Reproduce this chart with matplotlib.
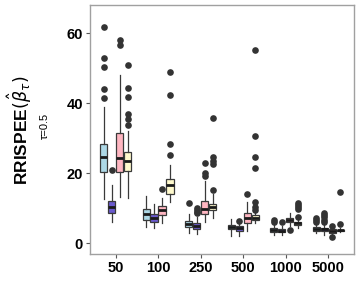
import numpy as np
import matplotlib
matplotlib.use('Agg')
import matplotlib.pyplot as plt

plt.rcParams['font.family'] = ['Liberation Sans', 'DejaVu Sans']

sizes = ['50', '100', '250', '500', '1000', '5000']
colors = ['#ADD8E6', '#6A5ACD', '#FFB6C1', '#FFFACD']

# rows = sample size, cols = method
whislo = [[12.7, 6.2, 13.3, 13.0],
          [4.7, 4.3, 5.9, 11.9],
          [3.0, 2.6, 6.2, 7.3],
          [2.1, 2.1, 3.6, 5.7],
          [2.4, 2.4, 4.9, 4.3],
          [2.9, 2.4, 2.4, 3.3]]
q1 = [[20.3, 8.7, 20.3, 20.7],
      [6.7, 6.2, 8.1, 14.1],
      [4.6, 4.1, 8.4, 9.5],
      [4.0, 3.6, 5.7, 6.7],
      [3.1, 3.1, 6.0, 5.2],
      [3.6, 3.6, 3.0, 3.6]]
med = [[24.6, 10.5, 24.3, 23.5],
       [8.4, 7.3, 9.5, 16.7],
       [5.5, 5.0, 9.8, 10.5],
       [4.6, 4.3, 7.1, 7.3],
       [3.7, 3.6, 6.7, 5.7],
       [4.1, 4.0, 3.5, 3.75]]
q3 = [[28.4, 12.1, 31.4, 26.0],
      [9.8, 8.4, 10.7, 18.3],
      [6.5, 5.9, 12.2, 11.2],
      [5.2, 4.9, 8.6, 8.0],
      [4.3, 4.2, 7.3, 6.2],
      [4.6, 4.5, 4.0, 3.9]]
whishi = [[38.9, 16.6, 48.1, 32.0],
          [13.6, 11.2, 12.9, 22.4],
          [8.5, 7.5, 17.8, 14.1],
          [6.9, 5.7, 11.9, 8.8],
          [5.2, 4.9, 8.7, 7.1],
          [5.7, 5.7, 4.7, 4.3]]
fliers = [[[61.9, 53.0, 50.3, 44.0, 41.5], [20.9], [58.1, 56.7], [50.9, 44.3, 41.9, 37.1, 35.5, 33.8]],
          [[], [], [15.4], [49.0, 42.4, 28.4, 25.2]],
          [[11.6], [10.0, 9.5, 9.0, 8.7], [22.9, 20.0, 19.3], [35.9, 24.6, 23.6, 22.7, 15.2]],
          [[], [6.5], [14.0], [55.2, 30.7, 24.6, 21.6, 11.7, 10.5, 9.5]],
          [[6.7, 6.0], [6.2], [3.8], [11.6, 10.9, 10.5, 9.8, 7.6]],
          [[7.2, 6.7, 6.2], [8.7, 8.1, 7.4, 6.7, 6.2], [4.95, 1.9], [14.7, 5.4]]]

fig = plt.figure(figsize=(3.6, 3.0), dpi=100)
ax = fig.add_axes([0.25, 0.153, 0.733, 0.83])

offsets = np.array([-0.28125, -0.09375, 0.09375, 0.28125])
for i in range(len(sizes)):
    for j in range(4):
        st = dict(whislo=whislo[i][j], q1=q1[i][j], med=med[i][j], q3=q3[i][j],
                  whishi=whishi[i][j], fliers=fliers[i][j])
        b = ax.bxp([st], positions=[i + 1 + offsets[j]], widths=0.17, patch_artist=True,
                   showcaps=False,
                   boxprops=dict(facecolor=colors[j], edgecolor='#3a3a3a', linewidth=0.9),
                   whiskerprops=dict(color='#3a3a3a', linewidth=0.9),
                   medianprops=dict(color='#1a1a1a', linewidth=2),
                   flierprops=dict(marker='o', markerfacecolor='#333333',
                                   markeredgewidth=0, markersize=4.8))

ax.set_xlim(0.4, 6.6)
ax.set_ylim(-3.1, 68.1)
ax.set_xticks(np.arange(1, len(sizes) + 1))
ax.set_xticklabels(sizes)
ax.set_yticks([0, 20, 40, 60])
for s in ax.spines.values():
    s.set_color('#a0a0a0')
    s.set_linewidth(1)
ax.tick_params(axis='both', colors='#555555', length=3, width=0.8, labelsize=10.5,
               labelcolor='black', pad=2)
for lab in ax.get_xticklabels() + ax.get_yticklabels():
    lab.set_fontweight('bold')

fig.text(20 / 360, 1 - 130 / 300, r'RRISPEE$(\hat{\beta}_{\tau})$', rotation=90,
         ha='center', va='center', fontsize=12.5, fontweight='bold')
fig.text(45 / 360, 1 - 126 / 300, r'τ=0.5', rotation=90,
         ha='center', va='center', fontsize=8)

fig.savefig('out.png', dpi=100)
